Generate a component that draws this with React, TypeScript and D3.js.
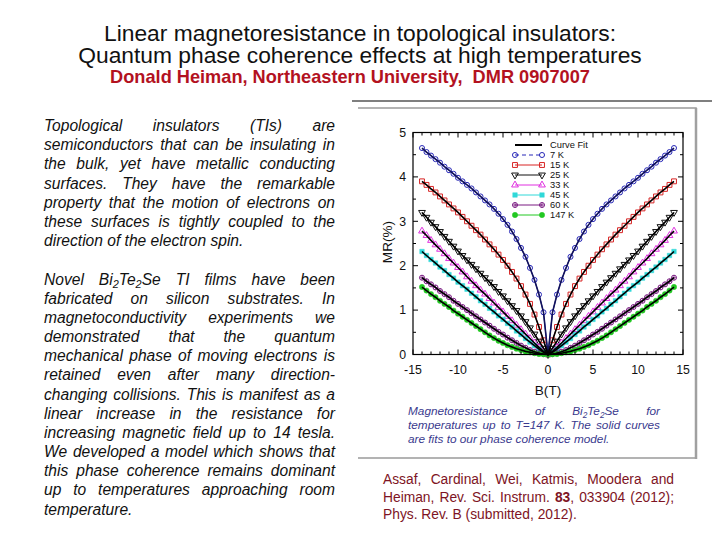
import React from 'react';
import * as d3 from 'd3';

const W = 720, H = 540;

// |B| (tesla); MR is even in B, the same values are plotted at +B and -B
const fieldT = [0, 0.5, 1, 1.5, 2, 2.5, 3, 3.5, 4, 4.5, 5, 5.5, 6, 6.5, 7, 7.5, 8, 8.5, 9, 9.5, 10, 10.5, 11, 11.5, 12, 12.5, 13, 13.5, 14];
const mr7K = [0, 0.95, 1.35, 1.68, 1.95, 2.2, 2.4, 2.6, 2.77, 2.92, 3.05, 3.17, 3.28, 3.38, 3.47, 3.56, 3.65, 3.74, 3.82, 3.9, 3.98, 4.07, 4.15, 4.23, 4.32, 4.4, 4.48, 4.56, 4.65];
const mr15K = [0, 0.32, 0.62, 0.9, 1.14, 1.35, 1.54, 1.71, 1.86, 2.0, 2.13, 2.25, 2.37, 2.48, 2.59, 2.7, 2.8, 2.9, 3.0, 3.1, 3.2, 3.29, 3.38, 3.47, 3.56, 3.65, 3.73, 3.82, 3.9];
const mr25K = [0, 0.14, 0.3, 0.46, 0.6, 0.74, 0.87, 0.99, 1.1, 1.21, 1.32, 1.42, 1.53, 1.63, 1.73, 1.83, 1.93, 2.03, 2.13, 2.23, 2.33, 2.44, 2.55, 2.66, 2.77, 2.88, 2.98, 3.09, 3.2];
const mr33K = [0, 0.07, 0.16, 0.26, 0.36, 0.46, 0.56, 0.66, 0.76, 0.86, 0.96, 1.06, 1.16, 1.26, 1.36, 1.45, 1.55, 1.65, 1.75, 1.86, 1.96, 2.06, 2.16, 2.27, 2.37, 2.47, 2.57, 2.68, 2.78];
const mr45K = [0, 0.05, 0.12, 0.2, 0.28, 0.36, 0.45, 0.53, 0.62, 0.7, 0.79, 0.87, 0.96, 1.04, 1.13, 1.21, 1.3, 1.38, 1.47, 1.55, 1.63, 1.72, 1.8, 1.89, 1.97, 2.06, 2.14, 2.23, 2.32];
const mr60K = [0, 0.01, 0.03, 0.06, 0.1, 0.15, 0.2, 0.26, 0.32, 0.38, 0.45, 0.51, 0.58, 0.65, 0.72, 0.79, 0.86, 0.93, 1.0, 1.07, 1.14, 1.21, 1.29, 1.36, 1.43, 1.51, 1.58, 1.65, 1.73];
const mr147K = [0, 0.005, 0.01, 0.03, 0.05, 0.07, 0.1, 0.13, 0.17, 0.21, 0.26, 0.31, 0.37, 0.43, 0.5, 0.57, 0.64, 0.71, 0.78, 0.85, 0.92, 0.99, 1.07, 1.14, 1.21, 1.29, 1.36, 1.44, 1.52];

const seriesNames = ['7 K', '15 K', '25 K', '33 K', '45 K', '60 K', '147 K'];
const seriesValues = [mr7K, mr15K, mr25K, mr33K, mr45K, mr60K, mr147K];
const seriesColors = ['#2828b8', '#d82424', '#111111', '#e030e0', '#30d8d8', '#7a1a82', '#22c822'];
const seriesShapes = ['circle', 'square', 'triDown', 'triUp', 'squareFilled', 'circlePlus', 'circleFilled'];
const fitLabel = 'Curve Fit';

const xTicks = [-15, -10, -5, 0, 5, 10, 15];
const yTicks = [0, 1, 2, 3, 4, 5];

const titleLines = [
  'Linear magnetoresistance in topological insulators:',
  'Quantum phase coherence effects at high temperatures',
];
const authorLine = 'Donald Heiman, Northeastern University,\u00a0 DMR 0907007';

const para1 = [
  'Topological insulators (TIs) are',
  'semiconductors that can be insulating in',
  'the bulk, yet have metallic conducting',
  'surfaces. They have the remarkable',
  'property that the motion of electrons on',
  'these surfaces is tightly coupled to the',
  'direction of the electron spin.',
];
const para2 = [
  'Novel Bi_2Te_2Se TI films have been',
  'fabricated on silicon substrates. In',
  'magnetoconductivity experiments we',
  'demonstrated that the quantum',
  'mechanical phase of moving electrons is',
  'retained even after many direction-',
  'changing collisions. This is manifest as a',
  'linear increase in the resistance for',
  'increasing magnetic field up to 14 tesla.',
  'We developed a model which shows that',
  'this phase coherence remains dominant',
  'up to temperatures approaching room',
  'temperature.',
];
const captionLines = [
  'Magnetoresistance of Bi_2Te_2Se for',
  'temperatures up to T=147 K. The solid curves',
  'are fits to our phase coherence model.',
];
const citationLines = [
  'Assaf, Cardinal, Wei, Katmis, Moodera and',
  'Heiman, Rev. Sci. Instrum. *83*, 033904 (2012);',
  'Phys. Rev. B (submitted, 2012).',
];

const FONT = '"Liberation Sans", Arial, Helvetica, sans-serif';

let measureCtx: CanvasRenderingContext2D | null = null;
function measure(text: string, font: string): number {
  if (!measureCtx) measureCtx = document.createElement('canvas').getContext('2d');
  if (!measureCtx) return text.length * 7;
  measureCtx.font = font;
  return measureCtx.measureText(text).width;
}

type Seg = { t: string; sub?: boolean; bold?: boolean };
function parseWord(w: string): Seg[] {
  const segs: Seg[] = [];
  let cur = '';
  let bold = false;
  for (let i = 0; i < w.length; i++) {
    const c = w[i];
    if (c === '_') {
      if (cur) segs.push({ t: cur, bold });
      cur = '';
      segs.push({ t: w[i + 1], sub: true, bold });
      i++;
    } else if (c === '*') {
      if (cur) segs.push({ t: cur, bold });
      cur = '';
      bold = !bold;
    } else cur += c;
  }
  if (cur) segs.push({ t: cur, bold });
  return segs;
}

function fontStr(size: number, italic: boolean, bold: boolean) {
  return `${italic ? 'italic ' : ''}${bold ? 'bold ' : ''}${size}px "Liberation Sans"`;
}

function Paragraph(props: {
  lines: string[]; x: number; width: number; y0: number; dy: number;
  size: number; italic: boolean; color: string; keyp: string;
}) {
  const { lines, x, width, y0, dy, size, italic, color, keyp } = props;
  const subSize = size * 0.7;
  const out: any[] = [];
  lines.forEach((line, li) => {
    const words = line.split(' ').filter(s => s.length > 0).map(parseWord);
    const widths = words.map(segs => segs.reduce((a, s) => a + measure(s.t, fontStr(s.sub ? subSize : size, italic, !!s.bold)), 0));
    const total = widths.reduce((a, b) => a + b, 0);
    const last = li === lines.length - 1;
    const space = measure(' ', fontStr(size, italic, false));
    const gap = !last && words.length > 1 ? (width - total) / (words.length - 1) : space;
    let cx = x;
    const y = y0 + li * dy;
    words.forEach((segs, wi) => {
      out.push(
        <text key={`${keyp}-${li}-${wi}`} x={cx} y={y} fontSize={size} fontStyle={italic ? 'italic' : 'normal'} fill={color} fontFamily={FONT}>
          {segs.map((s, si) => {
            const prevSub = si > 0 && segs[si - 1].sub;
            const d = s.sub ? size * 0.22 : prevSub ? -size * 0.22 : 0;
            return (
              <tspan key={si} dy={d} fontSize={s.sub ? subSize : size} fontWeight={s.bold ? 'bold' : 'normal'}>{s.t}</tspan>
            );
          })}
        </text>
      );
      cx += widths[wi] + gap;
    });
  });
  return <g>{out}</g>;
}

function Marker(props: { shape: string; color: string; x: number; y: number }) {
  const { shape, color, x, y } = props;
  const t = `translate(${x},${y})`;
  if (shape === 'circle') return <path transform={t} d={d3.symbol(d3.symbolCircle, 20)() || ''} fill="none" stroke={color} strokeWidth={1} />;
  if (shape === 'square') return <path transform={t} d={d3.symbol(d3.symbolSquare, 24)() || ''} fill="none" stroke={color} strokeWidth={1} />;
  if (shape === 'triDown') return <path transform={`${t} rotate(180)`} d={d3.symbol(d3.symbolTriangle, 20)() || ''} fill="none" stroke={color} strokeWidth={1} />;
  if (shape === 'triUp') return <path transform={t} d={d3.symbol(d3.symbolTriangle, 20)() || ''} fill="none" stroke={color} strokeWidth={1} />;
  if (shape === 'squareFilled') return <path transform={t} d={d3.symbol(d3.symbolSquare, 20)() || ''} fill={color} stroke={color} strokeWidth={0.5} />;
  if (shape === 'circlePlus') return (
    <g transform={t}>
      <circle r={2.5} fill="none" stroke={color} strokeWidth={1} />
      <path d="M-2.5,0H2.5M0,-2.5V2.5" stroke={color} strokeWidth={0.8} />
    </g>
  );
  return <path transform={t} d={d3.symbol(d3.symbolCircle, 22)() || ''} fill={color} stroke={color} strokeWidth={0.5} />;
}

export default function App() {
  const left = 413, right = 683, top = 132.5, bottom = 354.5;
  const x = d3.scaleLinear().domain([-15, 15]).range([left, right]);
  const y = d3.scaleLinear().domain([0, 5]).range([bottom, top]);

  const toPoints = (vals: number[]) => {
    const pts: { b: number; v: number }[] = [];
    for (let i = fieldT.length - 1; i >= 1; i--) pts.push({ b: -fieldT[i], v: vals[i] });
    for (let i = 0; i < fieldT.length; i++) pts.push({ b: fieldT[i], v: vals[i] });
    return pts;
  };
  const line = d3.line<{ b: number; v: number }>().x(d => x(d.b)).y(d => y(d.v));

  const xMinor = d3.range(-15, 16, 1);
  const yMinor = d3.range(0, 5.01, 0.5);

  const legX1 = 515, legX2 = 542, legY0 = 145, legDy = 10;

  return (
    <svg width={W} height={H} style={{ position: 'absolute', left: 0, top: 0 }} fontFamily={FONT}>
      <rect x={0} y={0} width={W} height={H} fill="#ffffff" />

      {/* title */}
      {titleLines.map((t, i) => (
        <text key={`t${i}`} x={360} y={40.5 + i * 22.5} textAnchor="middle" fontSize={22.8} fill="#111">{t}</text>
      ))}
      <text x={350} y={82.5} textAnchor="middle" fontSize={18.2} fontWeight="bold" fill="#b3121f">{authorLine}</text>

      {/* left text */}
      <Paragraph lines={para1} x={44} width={291} y0={131.2} dy={19.1} size={15.6} italic color="#111" keyp="p1" />
      <Paragraph lines={para2} x={44} width={291} y0={284.5} dy={19.18} size={15.6} italic color="#111" keyp="p2" />

      {/* panel frame */}
      <line x1={352} x2={712} y1={101} y2={101} stroke="#555" strokeWidth={1.5} />
      <path d="M358,108H696V458H358" fill="none" stroke="#9a9a9a" strokeWidth={1.5} />
      <line x1={696} x2={696} y1={108} y2={459} stroke="#a0a0a0" strokeWidth={2.5} />

      {/* plot */}
      <g>
        {seriesValues.map((vals, si) => (
          <path key={`dl${si}`} d={line(toPoints(vals)) || ''} fill="none" stroke={seriesColors[si]} strokeWidth={1} />
        ))}
        {seriesValues.map((vals, si) => (
          <g key={`mk${si}`}>
            {toPoints(vals).map((p, pi) => (
              <Marker key={pi} shape={seriesShapes[si]} color={seriesColors[si]} x={x(p.b)} y={y(p.v)} />
            ))}
          </g>
        ))}
        {seriesValues.map((vals, si) => (
          <path key={`fit${si}`} d={line(toPoints(vals)) || ''} fill="none" stroke={si === 0 ? '#12125a' : '#000'} strokeWidth={1.6} />
        ))}
      </g>

      {/* axes frame & ticks */}
      <rect x={left} y={top} width={right - left} height={bottom - top} fill="none" stroke="#000" strokeWidth={1.2} />
      {xMinor.map(v => {
        const len = v % 5 === 0 ? 5 : 3;
        return (
          <g key={`xt${v}`}>
            <line x1={x(v)} x2={x(v)} y1={bottom} y2={bottom - len} stroke="#000" />
            <line x1={x(v)} x2={x(v)} y1={top} y2={top + len} stroke="#000" />
          </g>
        );
      })}
      {yMinor.map(v => {
        const len = Math.abs(v - Math.round(v)) < 1e-6 ? 5 : 3;
        return (
          <g key={`yt${v}`}>
            <line x1={left} x2={left + len} y1={y(v)} y2={y(v)} stroke="#000" />
            <line x1={right} x2={right - len} y1={y(v)} y2={y(v)} stroke="#000" />
          </g>
        );
      })}
      {xTicks.map(v => (
        <text key={`xl${v}`} x={x(v)} y={374} textAnchor="middle" fontSize={12.3} fill="#111">{v}</text>
      ))}
      {yTicks.map(v => (
        <text key={`yl${v}`} x={406} y={y(v) + 4.3} textAnchor="end" fontSize={12.3} fill="#111">{v}</text>
      ))}
      <text x={548} y={394.5} textAnchor="middle" fontSize={13.6} fill="#111">B(T)</text>
      <text transform={`translate(391.5,242) rotate(-90)`} textAnchor="middle" fontSize={13.6} fill="#111">MR(%)</text>

      {/* legend */}
      <line x1={legX1} x2={legX2} y1={legY0} y2={legY0} stroke="#000" strokeWidth={2} />
      <text x={550} y={legY0 + 3.2} fontSize={9.3} fill="#111">{fitLabel}</text>
      {seriesNames.map((n, i) => {
        const ly = legY0 + (i + 1) * legDy;
        return (
          <g key={`lg${i}`}>
            <line x1={legX1} x2={legX2} y1={ly} y2={ly} stroke={seriesColors[i]} strokeWidth={1} strokeDasharray={i === 0 ? '4,3' : undefined} />
            <Marker shape={seriesShapes[i]} color={seriesColors[i]} x={legX1} y={ly} />
            <Marker shape={seriesShapes[i]} color={seriesColors[i]} x={legX2} y={ly} />
            <text x={550} y={ly + 3.2} fontSize={9.3} fill="#111">{n}</text>
          </g>
        );
      })}

      {/* caption */}
      <Paragraph lines={captionLines} x={408} width={252} y0={415} dy={14.2} size={11.8} italic color="#3a3a8e" keyp="cap" />
      {/* citation */}
      <Paragraph lines={citationLines} x={383} width={291} y0={484} dy={17.5} size={13.8} italic={false} color="#7e1424" keyp="cit" />
    </svg>
  );
}
